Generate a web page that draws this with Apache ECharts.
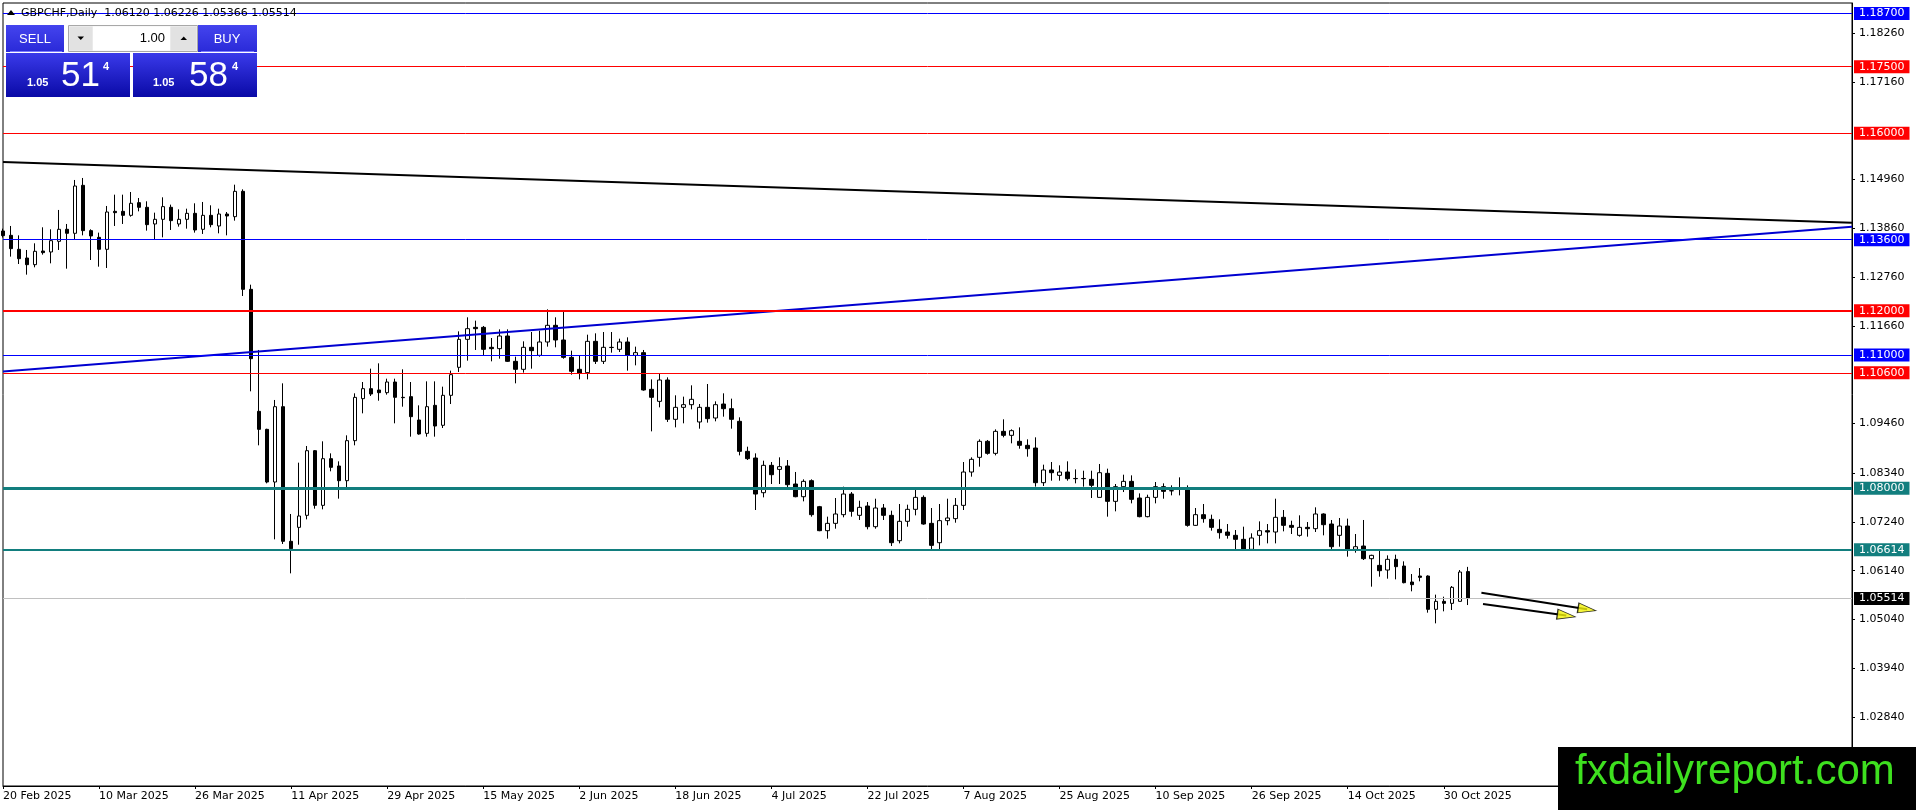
<!DOCTYPE html>
<html>
<head>
<meta charset="utf-8">
<title>GBPCHF, Daily</title>
<script src="https://cdn.jsdelivr.net/npm/echarts@6.0.0/dist/echarts.min.js"></script>
<style>
  html, body { margin: 0; padding: 0; background: #fff; }
  #main { width: 1916px; height: 810px; }
</style>
</head>
<body>
<div id="main"></div>
<script>
// daily bars, 20 Feb 2025 .. 4 Nov 2025
const opens = [
  1.13797, 1.13699, 1.13384, 1.13188, 1.13038, 1.13346, 1.13324, 1.13564, 1.13835, 1.13745,
  1.14826, 1.13805, 1.13654, 1.13384, 1.14240, 1.14240, 1.14150, 1.14436, 1.14331, 1.13955,
  1.14060, 1.14331, 1.13955, 1.14060, 1.14195, 1.13835, 1.14150, 1.13910, 1.14180, 1.14120,
  1.14691, 1.12482, 1.09732, 1.09326, 1.08139, 1.09837, 1.06802, 1.07117, 1.07388, 1.08845,
  1.07613, 1.08665, 1.08500, 1.08169, 1.09071, 1.10018, 1.10243, 1.10213, 1.10153, 1.10393,
  1.10048, 1.10063, 1.09537, 1.09236, 1.09867, 1.09417, 1.10093, 1.10724, 1.11355, 1.11625,
  1.11625, 1.11175, 1.11145, 1.11430, 1.10859, 1.10679, 1.11175, 1.10994, 1.11295, 1.11671,
  1.11340, 1.10949, 1.10679, 1.10604, 1.11310, 1.10859, 1.11170, 1.11130, 1.11295, 1.10994,
  1.11055, 1.10228, 1.09957, 1.10438, 1.09552, 1.09822, 1.09882, 1.09492, 1.09822, 1.09582,
  1.09897, 1.09792, 1.09507, 1.08830, 1.08680, 1.07898, 1.08515, 1.08424, 1.08500, 1.08094,
  1.07808, 1.08169, 1.07583, 1.07042, 1.07207, 1.07403, 1.07868, 1.07388, 1.07598, 1.07132,
  1.07553, 1.07388, 1.06816, 1.07253, 1.07523, 1.07793, 1.07207, 1.06771, 1.07268, 1.07313,
  1.07613, 1.08364, 1.08695, 1.09056, 1.08785, 1.09281, 1.09191, 1.09056, 1.08966, 1.08905,
  1.08124, 1.08410, 1.08289, 1.08364, 1.08219, 1.08219, 1.08199, 1.07793, 1.08334, 1.07703,
  1.08034, 1.08154, 1.07778, 1.07358, 1.07793, 1.08034, 1.07944, 1.07989, 1.07989, 1.07162,
  1.07403, 1.07298, 1.07072, 1.07012, 1.06937, 1.06847, 1.06621, 1.06937, 1.07042, 1.07012,
  1.07343, 1.07162, 1.06937, 1.07117, 1.07087, 1.07418, 1.07192, 1.06937, 1.07147, 1.06621,
  1.06696, 1.06411, 1.06260, 1.06155, 1.06396, 1.06245, 1.05885, 1.06020, 1.06020, 1.05269,
  1.05449, 1.05404, 1.05449, 1.06120
];
const highs = [
  1.13850, 1.13910, 1.13699, 1.13369, 1.13519, 1.13880, 1.13835, 1.14271, 1.13955, 1.14947,
  1.14992, 1.13835, 1.13760, 1.14361, 1.14616, 1.14616, 1.14676, 1.14541, 1.14466, 1.14210,
  1.14556, 1.14391, 1.14285, 1.14300, 1.14421, 1.14451, 1.14376, 1.14300, 1.14225, 1.14841,
  1.14736, 1.12587, 1.11115, 1.09340, 1.09988, 1.10363, 1.07418, 1.08575, 1.08951, 1.08860,
  1.09056, 1.08785, 1.08605, 1.09191, 1.10138, 1.10393, 1.10694, 1.10814, 1.10468, 1.10468,
  1.10679, 1.10393, 1.09867, 1.10408, 1.10408, 1.10288, 1.10649, 1.11535, 1.11851, 1.11776,
  1.11656, 1.11385, 1.11580, 1.11580, 1.10964, 1.11310, 1.11520, 1.11550, 1.12031, 1.11851,
  1.11986, 1.11100, 1.10979, 1.11460, 1.11490, 1.11520, 1.11520, 1.11370, 1.11400, 1.11190,
  1.11115, 1.10453, 1.10589, 1.10498, 1.10093, 1.10063, 1.10318, 1.09897, 1.10348, 1.09957,
  1.10138, 1.10018, 1.09597, 1.08935, 1.08785, 1.08620, 1.08590, 1.08695, 1.08635, 1.08365,
  1.08199, 1.08199, 1.07600, 1.07358, 1.07778, 1.08034, 1.07913, 1.07718, 1.07688, 1.07763,
  1.07643, 1.07493, 1.07643, 1.07628, 1.07989, 1.07838, 1.07553, 1.07643, 1.07763, 1.07778,
  1.08590, 1.08695, 1.09101, 1.09086, 1.09326, 1.09552, 1.09326, 1.09371, 1.09101, 1.09146,
  1.08530, 1.08590, 1.08515, 1.08605, 1.08424, 1.08394, 1.08394, 1.08545, 1.08440, 1.08094,
  1.08304, 1.08289, 1.07883, 1.07853, 1.08139, 1.08109, 1.08064, 1.08244, 1.08064, 1.07553,
  1.07643, 1.07403, 1.07298, 1.07192, 1.07057, 1.07132, 1.06982, 1.07252, 1.07192, 1.07763,
  1.07508, 1.07267, 1.07388, 1.07237, 1.07568, 1.07433, 1.07283, 1.07328, 1.07313, 1.06967,
  1.07283, 1.06500, 1.06591, 1.06486, 1.06501, 1.06351, 1.06065, 1.06200, 1.06035, 1.05600,
  1.05554, 1.05795, 1.06155, 1.06226
];
const lows = [
  1.13650, 1.13219, 1.13053, 1.12813, 1.12978, 1.13264, 1.13068, 1.13369, 1.12948, 1.13594,
  1.13699, 1.13143, 1.12993, 1.12963, 1.13910, 1.13955, 1.14120, 1.14240, 1.13805, 1.13594,
  1.13654, 1.13820, 1.13895, 1.13850, 1.13760, 1.13730, 1.13880, 1.13744, 1.13699, 1.14030,
  1.12332, 1.10183, 1.08966, 1.08109, 1.06847, 1.06742, 1.06080, 1.06726, 1.07297, 1.07538,
  1.07523, 1.08380, 1.07764, 1.07959, 1.08966, 1.09687, 1.10078, 1.09972, 1.10108, 1.09462,
  1.09837, 1.09161, 1.09206, 1.09161, 1.09161, 1.09356, 1.09897, 1.10619, 1.10874, 1.11115,
  1.10979, 1.10859, 1.10919, 1.10844, 1.10363, 1.10604, 1.10694, 1.10964, 1.11190, 1.11175,
  1.10919, 1.10559, 1.10453, 1.10453, 1.10799, 1.10799, 1.11055, 1.11070, 1.10649, 1.10769,
  1.10198, 1.09281, 1.09822, 1.09492, 1.09371, 1.09462, 1.09777, 1.09341, 1.09477, 1.09507,
  1.09612, 1.09341, 1.08740, 1.08635, 1.07508, 1.07793, 1.08094, 1.08094, 1.07989, 1.07795,
  1.07703, 1.07358, 1.07030, 1.06862, 1.07087, 1.07343, 1.07358, 1.07283, 1.07072, 1.07087,
  1.07283, 1.06696, 1.06756, 1.07132, 1.07388, 1.07177, 1.06606, 1.06606, 1.07163, 1.07222,
  1.07508, 1.08259, 1.08485, 1.08755, 1.08740, 1.09146, 1.09011, 1.08890, 1.08710, 1.08034,
  1.08049, 1.08169, 1.08169, 1.08169, 1.08109, 1.08034, 1.07778, 1.07793, 1.07358, 1.07478,
  1.07913, 1.07658, 1.07343, 1.07343, 1.07658, 1.07763, 1.07838, 1.07838, 1.07132, 1.07150,
  1.07222, 1.07042, 1.06862, 1.06862, 1.06621, 1.06606, 1.06606, 1.06711, 1.06756, 1.06756,
  1.07027, 1.06967, 1.06907, 1.06907, 1.07012, 1.06937, 1.06591, 1.06681, 1.06456, 1.06546,
  1.06381, 1.05780, 1.06005, 1.05960, 1.05945, 1.05855, 1.05675, 1.05900, 1.05194, 1.04953,
  1.05224, 1.05254, 1.05449, 1.05366
];
const closes = [
  1.13692, 1.13399, 1.13173, 1.13038, 1.13339, 1.13309, 1.13579, 1.13835, 1.13745, 1.14811,
  1.13805, 1.13685, 1.13384, 1.14225, 1.14210, 1.14150, 1.14421, 1.14331, 1.13940, 1.14060,
  1.14346, 1.14030, 1.14060, 1.14195, 1.13820, 1.14150, 1.13940, 1.14180, 1.14135, 1.14691,
  1.12482, 1.10919, 1.09326, 1.08139, 1.09837, 1.06802, 1.06636, 1.07373, 1.08845, 1.07613,
  1.08665, 1.08470, 1.08169, 1.09071, 1.10047, 1.10243, 1.10123, 1.10153, 1.10393, 1.10048,
  1.10040, 1.09612, 1.09221, 1.09837, 1.09401, 1.10093, 1.10559, 1.11355, 1.11595, 1.11595,
  1.11130, 1.11145, 1.11430, 1.10859, 1.10679, 1.11175, 1.11100, 1.11295, 1.11671, 1.11340,
  1.10949, 1.10634, 1.10589, 1.11310, 1.10859, 1.11175, 1.11175, 1.11295, 1.10994, 1.11055,
  1.10213, 1.10048, 1.10438, 1.09552, 1.09822, 1.09882, 1.10003, 1.09822, 1.09567, 1.09882,
  1.09792, 1.09552, 1.08830, 1.08665, 1.07868, 1.08515, 1.08304, 1.08485, 1.08079, 1.07808,
  1.08154, 1.07403, 1.07042, 1.07207, 1.07418, 1.07868, 1.07478, 1.07568, 1.07132, 1.07553,
  1.07388, 1.06771, 1.07253, 1.07523, 1.07793, 1.07192, 1.06711, 1.07268, 1.07328, 1.07613,
  1.08364, 1.08650, 1.09056, 1.08785, 1.09281, 1.09191, 1.09296, 1.08966, 1.08890, 1.08124,
  1.08410, 1.08349, 1.08364, 1.08214, 1.08214, 1.08214, 1.08064, 1.08349, 1.07703, 1.08034,
  1.08154, 1.07748, 1.07358, 1.07793, 1.08034, 1.07928, 1.07940, 1.07985, 1.07162, 1.07403,
  1.07313, 1.07117, 1.06997, 1.06937, 1.06847, 1.06621, 1.06877, 1.07042, 1.07012, 1.07343,
  1.07162, 1.07117, 1.07117, 1.07087, 1.07418, 1.07177, 1.06681, 1.07147, 1.06621, 1.06681,
  1.06411, 1.06486, 1.06140, 1.06396, 1.06231, 1.05870, 1.05825, 1.05990, 1.05269, 1.05449,
  1.05404, 1.05765, 1.06110, 1.05514
];

// price scale labels printed on the right
const priceTicks = [1.18260, 1.17160, 1.14960, 1.13860, 1.12760, 1.11660, 1.09460,
  1.08340, 1.07240, 1.06140, 1.05040, 1.03940, 1.02840];

// horizontal levels: price, line colour, width, box colour
const levels = [
  [1.18700, '#0000ff', 1, '#0000ff'],
  [1.17500, '#ff0000', 1, '#ff0000'],
  [1.16000, '#ff0000', 1, '#ff0000'],
  [1.13600, '#0000ff', 1, '#0000ff'],
  [1.12000, '#ff0000', 2, '#ff0000'],
  [1.11000, '#0000ff', 1, '#0000ff'],
  [1.10600, '#ff0000', 1, '#ff0000'],
  [1.08000, '#127e7e', 3, '#127e7e'],
  [1.06614, '#127e7e', 2, '#127e7e'],
  [1.05514, '#c0c0c0', 1, '#000000']
];

// trend lines and arrows as [bar index, price]
const resistanceLine = [[0, 1.15352], [231, 1.13984]];
const supportLine = [[0, 1.10630], [231, 1.13894]];
const arrowUpper = [[184.7, 1.05644], [197.9, 1.05270]];
const arrowLower = [[184.9, 1.05389], [195.3, 1.05130]];

const totalSlots = 232;
const monthNames = ['Jan', 'Feb', 'Mar', 'Apr', 'May', 'Jun', 'Jul', 'Aug', 'Sep', 'Oct', 'Nov', 'Dec'];

// weekday labels from 20 Feb 2025
const categories = [];
let d = new Date(Date.UTC(2025, 1, 20));
while (categories.length < opens.length) {
  const wd = d.getUTCDay();
  if (wd !== 0 && wd !== 6) {
    categories.push(d.getUTCDate() + ' ' + monthNames[d.getUTCMonth()] + ' ' + d.getUTCFullYear());
  }
  d = new Date(d.getTime() + 86400000);
}
while (categories.length < totalSlots) categories.push('');

const candles = opens.map((o, i) => [o, closes[i], lows[i], highs[i]]);

const FONT = 'DejaVu Sans';
const every12 = (idx, val) => val !== '' && idx % 12 === 0;

const chartDom = document.getElementById('main');
const myChart = echarts.init(chartDom);

const panelBlue = new echarts.graphic.LinearGradient(0, 0, 0, 1, [
  { offset: 0, color: '#3a3aea' }, { offset: 1, color: '#0a0aa6' }
]);
const btnBlue = new echarts.graphic.LinearGradient(0, 0, 0, 1, [
  { offset: 0, color: '#4444ee' }, { offset: 1, color: '#2a2ad8' }
]);

function txt(x, y, text, font, fill, align) {
  return {
    type: 'text', x: x, y: y, z: 101,
    style: { text: text, font: font, fill: fill, align: align || 'left', verticalAlign: 'middle' }
  };
}

const option = {
  animation: false,
  backgroundColor: '#fff',
  grid: {
    left: 3, top: 3, right: 64, bottom: 24,
    show: true, borderColor: '#000', borderWidth: 1, backgroundColor: '#fff'
  },
  xAxis: [
    {
      type: 'category',
      data: categories,
      boundaryGap: false,
      axisLine: { show: true, lineStyle: { color: '#000', width: 1 } },
      axisTick: { show: true, interval: every12, length: 3, lineStyle: { color: '#000' } },
      axisLabel: {
        interval: every12, align: 'left', margin: 5,
        fontSize: 11, fontFamily: FONT, color: '#000'
      },
      splitLine: { show: false }
    },
    { type: 'value', min: 0, max: totalSlots - 1, show: false }
  ],
  yAxis: {
    type: 'value',
    position: 'right',
    min: 1.01287,
    max: 1.18936,
    splitLine: { show: false },
    axisLine: { show: true, onZero: false, lineStyle: { color: '#000', width: 1 } },
    axisTick: { show: true, length: 3, customValues: priceTicks, lineStyle: { color: '#000' } },
    axisLabel: {
      customValues: priceTicks,
      formatter: v => v.toFixed(5),
      margin: 7, fontSize: 11, fontFamily: FONT, color: '#000'
    }
  },
  series: [
    {
      type: 'candlestick',
      name: 'GBPCHF',
      xAxisIndex: 0,
      data: candles,
      barWidth: 4,
      z: 3,
      itemStyle: {
        color: '#ffffff', color0: '#000000',
        borderColor: '#000000', borderColor0: '#000000', borderWidth: 1
      },
      emphasis: { disabled: true },
      markLine: {
        silent: true,
        precision: 5,
        symbol: ['none', 'none'],
        animation: false,
        label: {
          show: true, position: 'end', distance: 2,
          formatter: p => Number(p.value).toFixed(5),
          fontSize: 11, fontFamily: FONT, color: '#fff',
          padding: [1, 5, 0, 5], lineHeight: 12
        },
        data: levels.map(l => ({
          yAxis: l[0],
          lineStyle: { color: l[1], width: l[2], type: 'solid' },
          label: { backgroundColor: l[3] }
        }))
      }
    },
    {
      type: 'line', xAxisIndex: 1, data: resistanceLine, symbol: 'none', silent: true, z: 4,
      lineStyle: { color: '#000', width: 2 }
    },
    {
      type: 'line', xAxisIndex: 1, data: supportLine, symbol: 'none', silent: true, z: 4,
      lineStyle: { color: '#0000d0', width: 2 }
    },
    {
      type: 'line', xAxisIndex: 1, data: arrowUpper, symbol: 'none', silent: true, z: 5,
      lineStyle: { color: '#000', width: 2 }
    },
    {
      type: 'line', xAxisIndex: 1, data: arrowLower, symbol: 'none', silent: true, z: 5,
      lineStyle: { color: '#000', width: 2 }
    },
    {
      type: 'scatter', xAxisIndex: 1, silent: true, z: 6,
      symbol: 'triangle', symbolSize: [10, 18],
      itemStyle: { color: '#f2f20a', borderColor: '#000', borderWidth: 1 },
      data: [
        { value: arrowUpper[1], symbolRotate: -99 },
        { value: arrowLower[1], symbolRotate: -98 }
      ]
    }
  ],
  graphic: [
    // header
    { type: 'polygon', z: 101, shape: { points: [[7, 15], [15, 15], [11, 10]] }, style: { fill: '#000' } },
    txt(21, 13, 'GBPCHF,Daily  1.06120 1.06226 1.05366 1.05514', '11px "DejaVu Sans"', '#000'),
    // one click trading panel
    { type: 'rect', z: 100, shape: { x: 6, y: 25, width: 58, height: 27 }, style: { fill: btnBlue } },
    { type: 'rect', z: 100, shape: { x: 198, y: 25, width: 59, height: 27 }, style: { fill: btnBlue } },
    { type: 'line', z: 101, shape: { x1: 10, y1: 51.5, x2: 62, y2: 51.5 }, style: { stroke: '#7a7aff', lineWidth: 1 } },
    { type: 'line', z: 101, shape: { x1: 201, y1: 51.5, x2: 254, y2: 51.5 }, style: { stroke: '#7a7aff', lineWidth: 1 } },
    txt(35, 39, 'SELL', '13px "Liberation Sans"', '#fff', 'center'),
    txt(227, 39, 'BUY', '13px "Liberation Sans"', '#fff', 'center'),
    { type: 'rect', z: 100, shape: { x: 68.5, y: 25.5, width: 129, height: 26 }, style: { fill: '#f2f2f2', stroke: '#a8a8a8' } },
    { type: 'rect', z: 100, shape: { x: 69.5, y: 26.5, width: 23, height: 24 }, style: { fill: '#e2e2e2' } },
    { type: 'rect', z: 100, shape: { x: 93, y: 26.5, width: 77, height: 24 }, style: { fill: '#ffffff' } },
    { type: 'rect', z: 100, shape: { x: 170.5, y: 26.5, width: 26, height: 24 }, style: { fill: '#e2e2e2' } },
    { type: 'polygon', z: 101, shape: { points: [[77.5, 36.5], [84, 36.5], [80.75, 40]] }, style: { fill: '#000' } },
    { type: 'polygon', z: 101, shape: { points: [[180.5, 40], [187, 40], [183.75, 36.5]] }, style: { fill: '#000' } },
    txt(165, 38, '1.00', '13px "Liberation Sans"', '#000', 'right'),
    { type: 'rect', z: 100, shape: { x: 6, y: 53, width: 124, height: 44 }, style: { fill: panelBlue } },
    { type: 'rect', z: 100, shape: { x: 133, y: 53, width: 124, height: 44 }, style: { fill: panelBlue } },
    txt(27, 83, '1.05', 'bold 11px "Liberation Sans"', '#fff'),
    txt(61, 76, '51', '35px "Liberation Sans"', '#fff'),
    txt(103, 67, '4', 'bold 11px "Liberation Sans"', '#fff'),
    txt(153, 83, '1.05', 'bold 11px "Liberation Sans"', '#fff'),
    txt(189, 76, '58', '35px "Liberation Sans"', '#fff'),
    txt(232, 67, '4', 'bold 11px "Liberation Sans"', '#fff'),
    // watermark
    { type: 'rect', z: 110, shape: { x: 1558, y: 747, width: 358, height: 63 }, style: { fill: '#000' } },
    {
      type: 'text', x: 1575, y: 772, z: 111,
      style: { text: 'fxdailyreport.com', font: '42px "Liberation Sans"', fill: '#3ee01f', verticalAlign: 'middle' }
    }
  ]
};

option && myChart.setOption(option);
</script>
</body>
</html>
